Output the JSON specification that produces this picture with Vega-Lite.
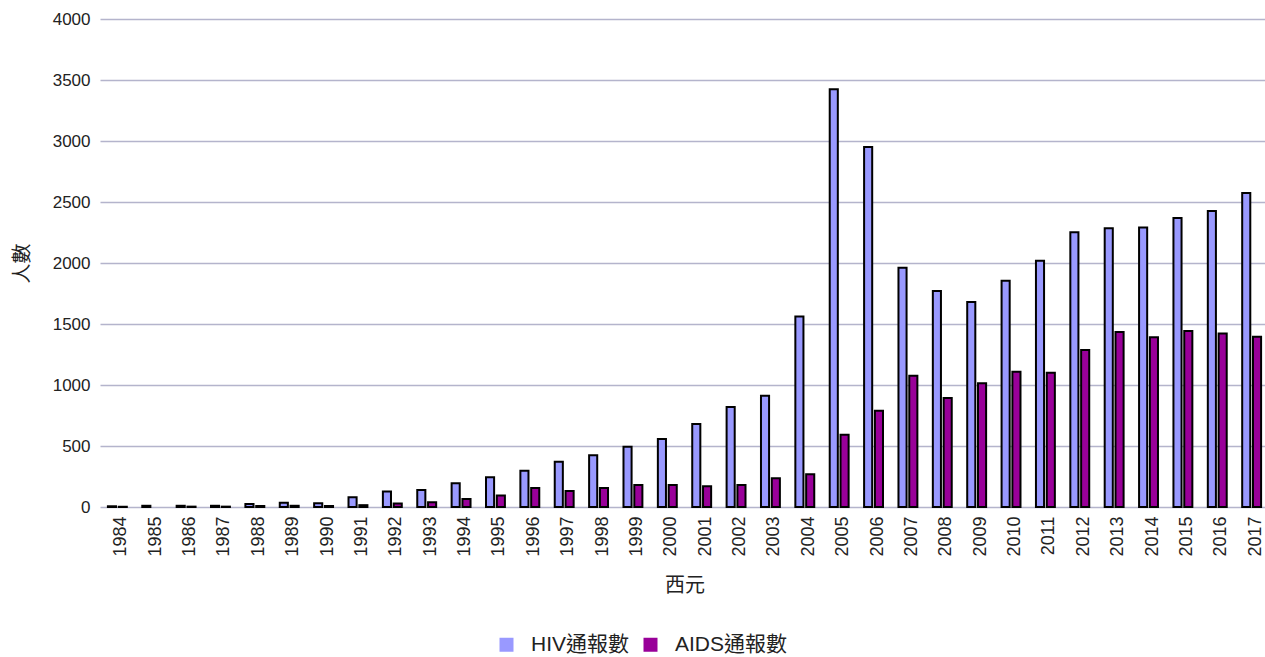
{
  "$schema": "https://vega.github.io/schema/vega-lite/v6.json",
  "width": 1169,
  "height": 488,
  "autosize": {"type": "none"},
  "padding": {"left": 100, "top": 19, "right": 0, "bottom": 150},
  "background": "white",
  "config": {
    "view": {"stroke": null},
    "font": "Liberation Sans",
    "axis": {"labelColor": "#222222", "titleColor": "#222222", "titleFontWeight": "normal"}
  },
  "datasets": {
    "reports": [
      {"year": "1984", "series": "HIV通報數", "value": 6}, {"year": "1984", "series": "AIDS通報數", "value": 2},
      {"year": "1985", "series": "HIV通報數", "value": 10},
      {"year": "1986", "series": "HIV通報數", "value": 10}, {"year": "1986", "series": "AIDS通報數", "value": 3},
      {"year": "1987", "series": "HIV通報數", "value": 10}, {"year": "1987", "series": "AIDS通報數", "value": 3},
      {"year": "1988", "series": "HIV通報數", "value": 25}, {"year": "1988", "series": "AIDS通報數", "value": 8},
      {"year": "1989", "series": "HIV通報數", "value": 35}, {"year": "1989", "series": "AIDS通報數", "value": 10},
      {"year": "1990", "series": "HIV通報數", "value": 30}, {"year": "1990", "series": "AIDS通報數", "value": 8},
      {"year": "1991", "series": "HIV通報數", "value": 80}, {"year": "1991", "series": "AIDS通報數", "value": 15},
      {"year": "1992", "series": "HIV通報數", "value": 128}, {"year": "1992", "series": "AIDS通報數", "value": 28},
      {"year": "1993", "series": "HIV通報數", "value": 140}, {"year": "1993", "series": "AIDS通報數", "value": 38},
      {"year": "1994", "series": "HIV通報數", "value": 195}, {"year": "1994", "series": "AIDS通報數", "value": 65},
      {"year": "1995", "series": "HIV通報數", "value": 243}, {"year": "1995", "series": "AIDS通報數", "value": 95},
      {"year": "1996", "series": "HIV通報數", "value": 297}, {"year": "1996", "series": "AIDS通報數", "value": 155},
      {"year": "1997", "series": "HIV通報數", "value": 370}, {"year": "1997", "series": "AIDS通報數", "value": 131},
      {"year": "1998", "series": "HIV通報數", "value": 425}, {"year": "1998", "series": "AIDS通報數", "value": 155},
      {"year": "1999", "series": "HIV通報數", "value": 494}, {"year": "1999", "series": "AIDS通報數", "value": 180},
      {"year": "2000", "series": "HIV通報數", "value": 557}, {"year": "2000", "series": "AIDS通報數", "value": 180},
      {"year": "2001", "series": "HIV通報數", "value": 680}, {"year": "2001", "series": "AIDS通報數", "value": 170},
      {"year": "2002", "series": "HIV通報數", "value": 819}, {"year": "2002", "series": "AIDS通報數", "value": 180},
      {"year": "2003", "series": "HIV通報數", "value": 912}, {"year": "2003", "series": "AIDS通報數", "value": 235},
      {"year": "2004", "series": "HIV通報數", "value": 1561}, {"year": "2004", "series": "AIDS通報數", "value": 268},
      {"year": "2005", "series": "HIV通報數", "value": 3425}, {"year": "2005", "series": "AIDS通報數", "value": 592},
      {"year": "2006", "series": "HIV通報數", "value": 2950}, {"year": "2006", "series": "AIDS通報數", "value": 788},
      {"year": "2007", "series": "HIV通報數", "value": 1961}, {"year": "2007", "series": "AIDS通報數", "value": 1076},
      {"year": "2008", "series": "HIV通報數", "value": 1770}, {"year": "2008", "series": "AIDS通報數", "value": 893},
      {"year": "2009", "series": "HIV通報數", "value": 1680}, {"year": "2009", "series": "AIDS通報數", "value": 1014},
      {"year": "2010", "series": "HIV通報數", "value": 1855}, {"year": "2010", "series": "AIDS通報數", "value": 1109},
      {"year": "2011", "series": "HIV通報數", "value": 2019}, {"year": "2011", "series": "AIDS通報數", "value": 1101},
      {"year": "2012", "series": "HIV通報數", "value": 2252}, {"year": "2012", "series": "AIDS通報數", "value": 1287},
      {"year": "2013", "series": "HIV通報數", "value": 2285}, {"year": "2013", "series": "AIDS通報數", "value": 1434},
      {"year": "2014", "series": "HIV通報數", "value": 2290}, {"year": "2014", "series": "AIDS通報數", "value": 1391},
      {"year": "2015", "series": "HIV通報數", "value": 2369}, {"year": "2015", "series": "AIDS通報數", "value": 1442},
      {"year": "2016", "series": "HIV通報數", "value": 2426}, {"year": "2016", "series": "AIDS通報數", "value": 1423},
      {"year": "2017", "series": "HIV通報數", "value": 2574}, {"year": "2017", "series": "AIDS通報數", "value": 1396}
    ]
  },
  "data": {"name": "reports"},
  "mark": {"type": "bar", "stroke": "black", "strokeWidth": 2},
  "encoding": {
    "x": {
      "field": "year",
      "type": "nominal",
      "scale": {"paddingInner": 0.45, "paddingOuter": 0.23},
      "axis": {
        "labelAngle": -90,
        "labelFontSize": 18,
        "labelPadding": 9,
        "labelOffset": 4,
        "ticks": false,
        "domain": false,
        "title": "西元",
        "titleFont": "Noto Sans CJK TC",
        "titleFontSize": 20,
        "titlePadding": 19
      }
    },
    "xOffset": {
      "field": "series",
      "type": "nominal",
      "sort": ["HIV通報數", "AIDS通報數"],
      "scale": {"paddingInner": 0.25, "paddingOuter": 0}
    },
    "y": {
      "field": "value",
      "type": "quantitative",
      "scale": {"domain": [0, 4000], "nice": false},
      "axis": {
        "values": [0, 500, 1000, 1500, 2000, 2500, 3000, 3500, 4000],
        "format": "d",
        "grid": true,
        "gridColor": "#b4b4cc",
        "gridWidth": 1.5,
        "domain": false,
        "ticks": false,
        "labelFontSize": 17,
        "labelPadding": 10,
        "title": "人數",
        "titleFont": "Noto Sans CJK TC",
        "titleFontSize": 20,
        "titlePadding": 20
      }
    },
    "color": {
      "field": "series",
      "type": "nominal",
      "sort": ["HIV通報數", "AIDS通報數"],
      "scale": {"domain": ["HIV通報數", "AIDS通報數"], "range": ["#9999ff", "#990099"]},
      "legend": {
        "title": null,
        "orient": "none",
        "legendX": 396,
        "legendY": 615,
        "direction": "horizontal",
        "symbolType": "square",
        "symbolSize": 196,
        "symbolStrokeWidth": 0,
        "labelFontSize": 21,
        "labelFont": "Liberation Sans, Noto Sans CJK TC",
        "labelColor": "#222222",
        "columnPadding": 10,
        "labelOffset": 14
      }
    }
  }
}
